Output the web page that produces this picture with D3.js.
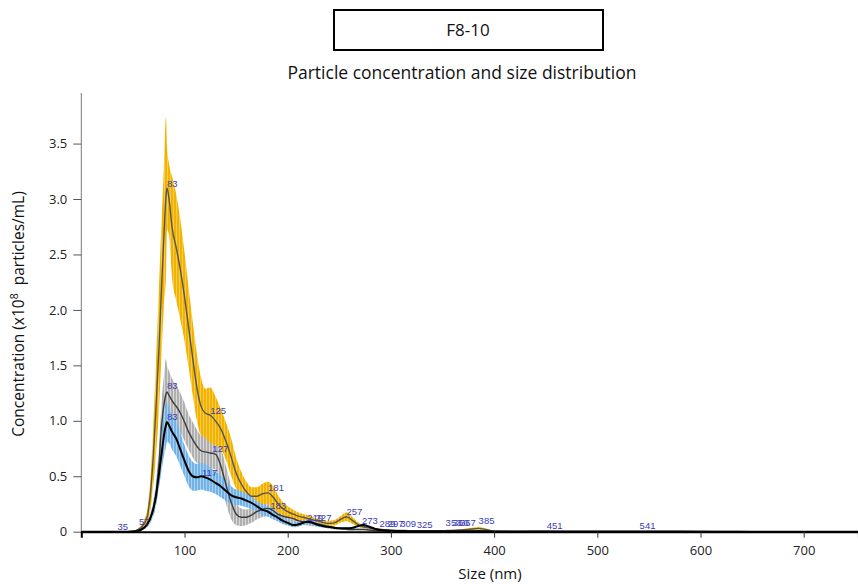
<!DOCTYPE html>
<html>
<head>
<meta charset="utf-8">
<script src="https://cdn.jsdelivr.net/npm/d3@7"></script>
<style>
  body { margin: 0; background: #fff; }
  svg { display: block; font-family: "Open Sans", "Noto Sans", sans-serif; }
</style>
</head>
<body>
<svg id="chart" width="858" height="584"></svg>
<script>
// particle size (nm) where each reading was taken
const sizes = [
  0, 40, 50, 55, 60, 64, 68, 72, 75, 78,
  80, 82, 83, 85, 88, 92, 96, 100, 104, 108,
  112, 116, 120, 125, 130, 135, 140, 145, 150, 155,
  160, 165, 170, 175, 181, 186, 190, 195, 200, 205,
  210, 215, 219, 223, 227, 232, 238, 245, 251, 257,
  263, 268, 273, 279, 285, 290, 297, 303, 309, 317,
  325, 335, 345, 353, 360, 367, 375, 385, 392, 400,
  420, 451, 480, 510, 541, 580, 650, 760
];

// yellow sample, mean and error (x10^8 particles/mL)
const yellowMean = [
  0, 0, 0.005, 0.02, 0.06, 0.14, 0.45, 1.05, 1.6, 2.25,
  2.65, 3.02, 3.1, 3.0, 2.74, 2.56, 2.36, 2.12, 1.84, 1.56,
  1.3, 1.13, 1.07, 1.05, 1.0, 0.93, 0.82, 0.68, 0.53, 0.43,
  0.36, 0.32, 0.32, 0.34, 0.35, 0.31, 0.26, 0.21, 0.18, 0.16,
  0.14, 0.13, 0.12, 0.11, 0.1, 0.09, 0.075, 0.08, 0.11, 0.135,
  0.1, 0.065, 0.045, 0.035, 0.025, 0.02, 0.015, 0.012, 0.012, 0.01,
  0.01, 0.008, 0.008, 0.01, 0.012, 0.015, 0.02, 0.03, 0.02, 0.005,
  0.003, 0.004, 0.002, 0.002, 0.003, 0.002, 0.001, 0
];
const yellowErr = [
  0, 0, 0, 0.01, 0.03, 0.07, 0.18, 0.4, 0.55, 0.6,
  0.62, 0.72, 0.38, 0.32, 0.46, 0.48, 0.45, 0.4, 0.36, 0.33,
  0.3, 0.26, 0.22, 0.25, 0.22, 0.18, 0.17, 0.17, 0.14, 0.11,
  0.09, 0.08, 0.08, 0.09, 0.1, 0.1, 0.08, 0.06, 0.05, 0.04,
  0.035, 0.03, 0.03, 0.025, 0.02, 0.02, 0.02, 0.025, 0.03, 0.04,
  0.03, 0.02, 0.015, 0.01, 0.008, 0.006, 0.005, 0.004, 0.004, 0.004,
  0.004, 0.003, 0.003, 0.005, 0.006, 0.008, 0.01, 0.012, 0.008, 0.002,
  0, 0, 0, 0, 0, 0, 0, 0
];

// grey sample
const greyMean = [
  0, 0, 0.002, 0.008, 0.03, 0.07, 0.15, 0.32, 0.58, 0.98,
  1.14, 1.24, 1.26, 1.23, 1.18, 1.13, 1.07, 0.99, 0.9, 0.83,
  0.77, 0.73, 0.72, 0.71, 0.7, 0.6, 0.43, 0.27, 0.16, 0.13,
  0.13, 0.15, 0.18, 0.2, 0.21, 0.19, 0.16, 0.14, 0.13, 0.12,
  0.1, 0.09, 0.085, 0.08, 0.075, 0.065, 0.05, 0.035, 0.028, 0.022,
  0.02, 0.02, 0.02, 0.015, 0.01, 0.008, 0.006, 0.005, 0.005, 0.004,
  0.004, 0.003, 0.003, 0.004, 0.004, 0.005, 0.005, 0.006, 0.004, 0.002,
  0.001, 0.001, 0.001, 0.001, 0.001, 0.001, 0, 0
];
const greyErr = [
  0, 0, 0, 0.003, 0.01, 0.03, 0.05, 0.1, 0.16, 0.22,
  0.26, 0.32, 0.24, 0.22, 0.2, 0.19, 0.18, 0.17, 0.16, 0.16,
  0.15, 0.14, 0.14, 0.14, 0.14, 0.16, 0.17, 0.15, 0.1, 0.08,
  0.07, 0.07, 0.07, 0.07, 0.07, 0.07, 0.06, 0.05, 0.05, 0.04,
  0.04, 0.03, 0.03, 0.03, 0.025, 0.02, 0.02, 0.015, 0.01, 0.01,
  0.01, 0.008, 0.008, 0.006, 0.005, 0.004, 0.003, 0.003, 0.003, 0.002,
  0.002, 0.002, 0.002, 0.003, 0.003, 0.003, 0.003, 0.004, 0.002, 0.001,
  0, 0, 0, 0, 0, 0, 0, 0
];

// blue sample
const blueMean = [
  0, 0, 0.002, 0.008, 0.03, 0.07, 0.15, 0.3, 0.5, 0.72,
  0.86, 0.96, 0.99, 0.96, 0.9, 0.84, 0.74, 0.64, 0.55, 0.5,
  0.49, 0.5, 0.49, 0.47, 0.44, 0.41, 0.37, 0.33, 0.31, 0.3,
  0.28, 0.26, 0.23, 0.2, 0.18, 0.15, 0.13, 0.1, 0.08, 0.06,
  0.065, 0.08, 0.09, 0.085, 0.07, 0.055, 0.045, 0.035, 0.03, 0.03,
  0.035, 0.05, 0.06, 0.045, 0.025, 0.015, 0.01, 0.008, 0.006, 0.005,
  0.004, 0.003, 0.003, 0.004, 0.004, 0.004, 0.004, 0.005, 0.003, 0.002,
  0.001, 0.001, 0.001, 0.001, 0.001, 0.001, 0, 0
];
const blueErr = [
  0, 0, 0, 0.003, 0.01, 0.02, 0.04, 0.08, 0.12, 0.16,
  0.18, 0.2, 0.18, 0.16, 0.16, 0.16, 0.15, 0.14, 0.14, 0.13,
  0.12, 0.12, 0.12, 0.11, 0.1, 0.1, 0.09, 0.08, 0.07, 0.065,
  0.06, 0.055, 0.05, 0.05, 0.045, 0.04, 0.035, 0.03, 0.025, 0.02,
  0.02, 0.02, 0.02, 0.02, 0.02, 0.015, 0.012, 0.01, 0.01, 0.01,
  0.01, 0.012, 0.012, 0.01, 0.006, 0.004, 0.003, 0.002, 0.002, 0.002,
  0.002, 0.001, 0.001, 0.002, 0.002, 0.002, 0.002, 0.002, 0.001, 0.001,
  0, 0, 0, 0, 0, 0, 0, 0
];

// peak labels: text, size (nm), height (x10^8)
const peakTexts  = ['35', '57', '83', '83', '83', '125', '127', '117', '181', '183', '219', '227', '257', '273',
                    '289', '297', '309', '325', '353', '360', '367', '385', '451', '541'];
const peakSizes  = [35, 56, 83, 83, 83, 125, 127, 117, 181, 183, 219, 227, 257, 272,
                    289, 297, 309, 325, 353, 360, 367, 385, 451, 541];
const peakValues = [0.01, 0.05, 3.1, 1.28, 1.0, 1.05, 0.71, 0.49, 0.36, 0.2, 0.09, 0.09, 0.14, 0.06,
                    0.03, 0.03, 0.03, 0.025, 0.04, 0.04, 0.04, 0.06, 0.015, 0.015];

const xTicks = [100, 200, 300, 400, 500, 600, 700];
const yTicks = [0, 0.5, 1.0, 1.5, 2.0, 2.5, 3.0, 3.5];

const svg = d3.select('#chart');
const x = d3.scaleLinear().domain([0, 753]).range([81.3, 858.4]);
const y = d3.scaleLinear().domain([0, 3.956]).range([531.7, 93]);

// striped fills, like the dense error bars of the original
const defs = svg.append('defs');
const stripes = [
  { id: 'stripeGrey', c: '#b0b0b0', light: '#d8d8d8' },
  { id: 'stripeYellow', c: '#f2b300', light: '#f7cc50' },
  { id: 'stripeBlue', c: '#72b2e6', light: '#abd1f0' }
];
stripes.forEach(s => {
  const p = defs.append('pattern').attr('id', s.id).attr('patternUnits', 'userSpaceOnUse')
    .attr('width', 3).attr('height', 8);
  p.append('rect').attr('width', 3).attr('height', 8).attr('fill', s.light);
  p.append('rect').attr('width', 2).attr('height', 8).attr('fill', s.c);
});

const mk = (mean, err) => sizes.map((s, i) => ({ s: s, m: mean[i], e: err[i] }));
const series = [
  { d: mk(greyMean, greyErr), fill: 'url(#stripeGrey)', line: '#3c3c3c', w: 1.4 },
  { d: mk(yellowMean, yellowErr), fill: 'url(#stripeYellow)', line: '#555', w: 1.4 },
  { d: mk(blueMean, blueErr), fill: 'url(#stripeBlue)', line: '#000', w: 2 }
];

const band = d3.area().curve(d3.curveMonotoneX)
  .x(d => x(d.s)).y0(d => y(Math.max(0, d.m - d.e))).y1(d => y(d.m + d.e));
const line = d3.line().curve(d3.curveMonotoneX).x(d => x(d.s)).y(d => y(d.m));

const plot = svg.append('g');
series.forEach(sr => {
  plot.append('path').datum(sr.d).attr('fill', sr.fill).attr('d', band);
});
series.forEach(sr => {
  plot.append('path').datum(sr.d).attr('fill', 'none').attr('stroke', sr.line)
    .attr('stroke-width', sr.w).attr('d', line);
});

// peak size labels
plot.selectAll('text.peak').data(peakTexts).join('text').attr('class', 'peak')
  .attr('x', (t, i) => x(peakSizes[i]))
  .attr('y', (t, i) => y(peakValues[i]) - 1)
  .attr('font-family', 'Liberation Sans, Arial, sans-serif')
  .attr('font-size', 9.5).attr('fill', '#3c3cb4')
  .text(t => t);

// axes
const yAxis = svg.append('g').attr('transform', 'translate(81.3,0)')
  .call(d3.axisLeft(y).tickValues(yTicks).tickSize(8).tickPadding(6)
    .tickFormat(v => v === 0 ? '0' : d3.format('.1f')(v)));
yAxis.select('.domain').attr('stroke', '#777').attr('d', 'M0,93V531.7');
yAxis.selectAll('.tick line').attr('stroke', '#555');
yAxis.selectAll('text').attr('font-size', 13).attr('fill', '#222')
  .attr('font-family', '"Open Sans", sans-serif');

const xAxis = svg.append('g').attr('transform', 'translate(0,531.7)')
  .call(d3.axisBottom(x).tickValues(xTicks).tickSize(6).tickPadding(8));
xAxis.select('.domain').attr('stroke', '#000').attr('stroke-width', 2);
xAxis.selectAll('.tick line').attr('stroke', '#333');
xAxis.selectAll('text').attr('font-size', 13).attr('fill', '#222')
  .attr('font-family', '"Open Sans", sans-serif');

// axis titles
svg.append('text').attr('x', 490).attr('y', 579).attr('text-anchor', 'middle')
  .attr('font-size', 15).attr('fill', '#111').text('Size (nm)');

const yl = svg.append('text').attr('transform', 'translate(24,314) rotate(-90)')
  .attr('text-anchor', 'middle').attr('font-size', 15.5).attr('fill', '#111');
yl.append('tspan').text('Concentration (x10');
yl.append('tspan').attr('font-size', 10.5).attr('dy', -6).text('8');
yl.append('tspan').attr('dy', 6).text('\u00a0 particles/mL)');

// heading
svg.append('rect').attr('x', 334).attr('y', 10).attr('width', 269).attr('height', 40)
  .attr('fill', 'none').attr('stroke', '#000').attr('stroke-width', 2);
svg.append('text').attr('x', 468).attr('y', 36).attr('text-anchor', 'middle')
  .attr('font-size', 17).attr('fill', '#111').text('F8-10');
svg.append('text').attr('x', 462).attr('y', 79).attr('text-anchor', 'middle')
  .attr('font-size', 17.5).attr('fill', '#111').text('Particle concentration and size distribution');
</script>
</body>
</html>
